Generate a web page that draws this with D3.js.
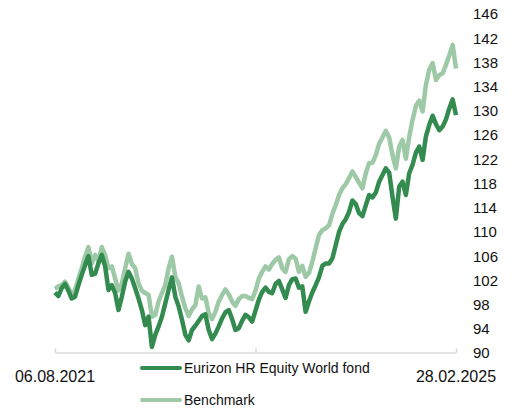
<!DOCTYPE html>
<html>
	<head>
		<meta charset="utf-8">
		<title>Eurizon HR Equity World fond vs Benchmark</title>
		<script src="https://d3js.org/d3.v7.min.js"></script>
		<style>
			body { margin: 0; background: #ffffff; }
			text { font-family: "Liberation Sans", Arial, sans-serif; fill: #111111; }
		</style>
	</head>
	<body>
		<div id="chart"></div>

		<script type="text/javascript">
		// Data (index values, start = 100)
		var dateLabels = ["06.08.2021", "28.02.2025"];
		var yTicks = [90, 94, 98, 102, 106, 110, 114, 118, 122, 126, 130, 134, 138, 142, 146];
		var seriesNames = ["Eurizon HR Equity World fond", "Benchmark"];

		var fund = [
			100.0, 99.4, 100.7, 101.4, 100.3, 99.0, 99.3, 101.2, 102.9, 104.5,
			106.0, 102.9, 103.1, 104.8, 106.2, 104.3, 100.4, 101.2, 99.9, 97.1,
			99.3, 101.8, 103.4, 102.3, 100.7, 99.0, 97.1, 94.6, 96.0, 91.0,
			93.0, 94.4, 96.0, 98.2, 100.4, 102.5, 99.3, 97.7, 95.5, 93.0,
			92.1, 93.8, 94.5, 95.3, 96.1, 96.4, 93.8, 92.3, 93.2, 94.4,
			95.7, 96.7, 97.1, 95.6, 93.8, 94.1, 95.3, 96.3, 95.9, 95.2,
			97.0, 98.8, 100.1, 100.8, 100.1, 99.9, 101.4, 101.9, 100.5, 99.1,
			101.2, 102.2, 102.3, 100.8, 101.0, 96.8, 98.5, 100.0, 101.2, 102.5,
			104.4, 104.8, 104.8, 105.6, 107.8, 110.0, 111.3, 112.1, 113.3, 115.2,
			114.6, 113.1, 112.6, 114.4, 116.1, 115.7, 116.5, 118.3, 119.4, 120.5,
			119.8, 115.8, 112.2, 117.5, 118.3, 116.1, 119.7, 121.1, 123.1, 124.1,
			121.9, 125.8, 127.7, 129.2, 127.8, 126.8, 127.4, 128.6, 130.4, 131.9,
			129.3
		];

		var benchmark = [
			100.6, 101.0, 101.2, 101.8, 100.8, 99.6, 100.4, 102.3, 104.0, 105.9,
			107.5, 104.8, 106.2, 105.1, 107.5, 106.2, 104.0, 104.3, 102.3, 100.3,
			101.5, 104.0, 106.4, 104.7, 104.0, 101.5, 100.3, 99.9, 99.6, 96.0,
			96.3, 98.5, 99.9, 101.2, 104.0, 105.9, 102.6, 101.5, 99.3, 97.4,
			96.1, 97.2, 97.9, 101.0, 99.0, 99.2, 96.6, 95.6, 96.8, 98.5,
			99.6, 100.5, 99.7, 98.5, 97.8, 98.9, 99.4, 99.4, 99.1, 98.9,
			100.3, 102.3, 103.4, 104.3, 103.8, 104.7, 105.4, 105.8, 104.0, 103.4,
			105.5, 106.0, 105.6, 103.4, 104.4, 102.6, 103.2, 105.1, 107.3, 109.5,
			110.3, 110.6, 111.1, 113.0, 114.4, 116.1, 117.2, 117.9, 118.9, 120.0,
			119.1, 118.1, 117.2, 119.7, 121.4, 121.4, 122.7, 124.6, 125.6, 126.7,
			125.6, 122.7, 120.5, 124.1, 125.2, 122.1, 125.7, 128.5, 130.8, 131.7,
			129.9, 134.3, 136.8, 137.9, 135.1, 135.9, 136.2, 137.6, 139.2, 140.9,
			137.0
		];

		// Set constants
		const svgWidth = 514;
		const svgHeight = 410;
		const fundColor = "#338b50";
		const benchColor = "#9dc9a7";
		const axisColor = "#d9d9d9";

		var svg = d3.select("#chart").append("svg")
			.attr("width", svgWidth)
			.attr("height", svgHeight);

		// X scale on the observation index
		var x = d3.scaleLinear()
			.domain([0, fund.length - 1])
			.range([55, 456]);

		// Y scale for the index values
		var y = d3.scaleLinear()
			.domain([90, 146])
			.range([353, 14]);

		// Bottom axis: light line with three small ticks pointing up
		var xAxis = d3.axisTop(x)
			.tickValues([0, (fund.length - 1) / 2, fund.length - 1])
			.tickSize(4)
			.tickSizeOuter(0)
			.tickFormat("");

		var gx = svg.append("g")
			.attr("transform", "translate(0,352.5)")
			.call(xAxis);
		gx.select(".domain").attr("stroke", axisColor).attr("stroke-width", 1.5);
		gx.selectAll(".tick line").attr("stroke", axisColor).attr("stroke-width", 1.5);

		// Date labels under both ends
		svg.selectAll("text.dateLabel")
			.data(dateLabels)
			.enter()
			.append("text")
			.attr("class", "dateLabel")
			.attr("x", function (d, i) { return x(i * (fund.length - 1)); })
			.attr("y", 382)
			.attr("text-anchor", "middle")
			.style("font-size", "16px")
			.text(function (d) { return d; });

		// Right value labels (no axis line)
		svg.selectAll("text.yLabel")
			.data(yTicks)
			.enter()
			.append("text")
			.attr("class", "yLabel")
			.attr("x", 473)
			.attr("y", function (d) { return y(d); })
			.attr("dy", "0.36em")
			.style("font-size", "15px")
			.text(function (d) { return d; });

		// Lines
		var line = d3.line()
			.x(function (d, i) { return x(i); })
			.y(function (d) { return y(d); });

		svg.append("path")
			.datum(benchmark)
			.attr("fill", "none")
			.attr("stroke", benchColor)
			.attr("stroke-width", 4.5)
			.attr("stroke-linejoin", "round")
			.attr("d", line);

		svg.append("path")
			.datum(fund)
			.attr("fill", "none")
			.attr("stroke", fundColor)
			.attr("stroke-width", 4.5)
			.attr("stroke-linejoin", "round")
			.attr("d", line);

		// Legend, stacked below the axis
		var legend = svg.selectAll("g.legendItem")
			.data(seriesNames)
			.enter()
			.append("g")
			.attr("class", "legendItem")
			.attr("transform", function (d, i) { return "translate(142," + (368 + i * 32) + ")"; });

		legend.append("line")
			.attr("x1", 0)
			.attr("x2", 38)
			.attr("stroke", function (d, i) { return i == 0 ? fundColor : benchColor; })
			.attr("stroke-width", 4)
			.attr("stroke-linecap", "round");

		legend.append("text")
			.attr("x", 42)
			.attr("y", 5)
			.style("font-size", "14px")
			.text(function (d) { return d; });
		</script>
	</body>
</html>
